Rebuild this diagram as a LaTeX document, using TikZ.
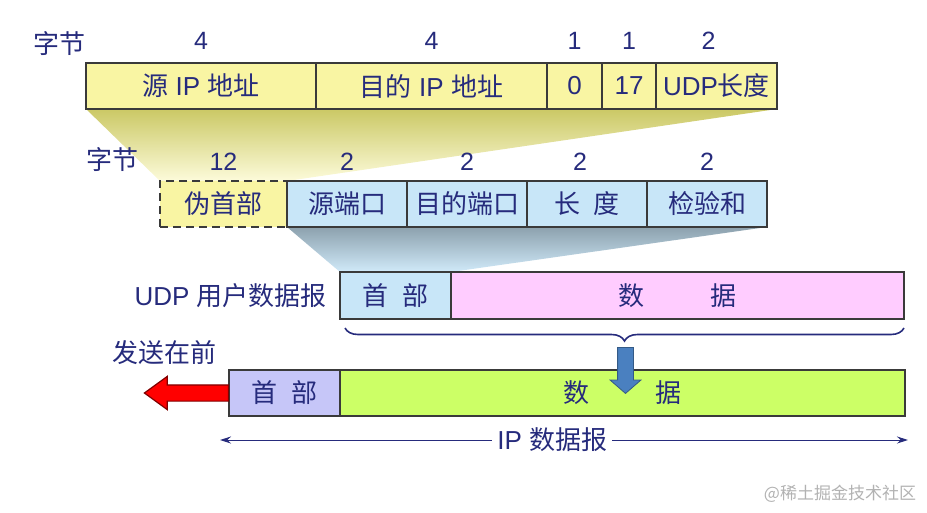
\documentclass[tikz,border=0pt]{standalone}
\usepackage{fontspec}
\setmainfont{Liberation Sans}
\newfontfamily\cjk{Noto Sans CJK SC}
\usepackage{xcolor}
\usepackage{tikz}
\usetikzlibrary{arrows.meta,positioning,calc,shapes.arrows,decorations.pathreplacing,backgrounds}
\definecolor{ink}{HTML}{262B7C}
\definecolor{edge}{HTML}{3A3A3A}
\definecolor{ipyel}{HTML}{F9F5A3}
\definecolor{udpblu}{HTML}{C8E6F8}
\definecolor{datpnk}{HTML}{FFCCFF}
\definecolor{hdrlav}{HTML}{C6C6F8}
\definecolor{datgrn}{HTML}{CCFF66}
\definecolor{pushblu}{HTML}{4A80C0}
\newcommand{\zh}[1]{{\cjk #1}}

\begin{document}
\begin{tikzpicture}[x=1pt, y=-1pt,
  font=\fontsize{26}{30}\selectfont,
  fld/.style ={draw=edge, line width=1.6pt, minimum height=46pt, inner sep=0pt,
               outer sep=0pt, text=ink},
  num/.style ={text=ink, inner sep=0pt, font=\fontsize{25}{29}\selectfont},
  lbl/.style ={text=ink, inner sep=2pt},
  fat/.style ={single arrow, draw, minimum width=0pt},
  brc/.style ={decorate, decoration={brace, mirror, amplitude=13pt}, draw=ink, line width=1.6pt},
  ar/.style  ={{Stealth[length=11pt,width=7pt]}-{Stealth[length=11pt,width=7pt]}, ink, line width=1pt}
]
\useasboundingbox (0,0) rectangle (927,512);

% ---------- IP pseudo header ----------
\node[lbl] (b1) at (60,44) {\zh{字节}};
\node[fld, fill=ipyel, minimum width=230pt, anchor=north west] (sip) at (86,63) {\zh{源} IP \zh{地址}};
\node[fld, fill=ipyel, minimum width=231pt, right=0pt of sip] (dip) {\zh{目的} IP \zh{地址}};
\node[fld, fill=ipyel, minimum width=55pt,  right=0pt of dip] (zro) {0};
\node[fld, fill=ipyel, minimum width=54pt,  right=0pt of zro] (prt) {17};
\node[fld, fill=ipyel, minimum width=121pt, right=0pt of prt] (uln) {UDP\zh{长度}};

\node[num] (n1) at ([yshift=22pt]sip.north) {4};
\node[num] (n2) at ([yshift=22pt]dip.north) {4};
\node[num] (n3) at ([yshift=22pt]zro.north) {1};
\node[num] (n4) at ([yshift=22pt]prt.north) {1};
\node[num] (n5) at ([xshift=-8pt,yshift=22pt]uln.north) {2};

% ---------- UDP header ----------
\node[lbl] (b2) at (112,160) {\zh{字节}};
\node[fld, fill=ipyel, dash pattern=on 8pt off 5pt, minimum width=127pt, anchor=north west] (psd)
  at (160,181) {\zh{伪首部}};
\node[fld, fill=udpblu, minimum width=120pt, right=0pt of psd] (spt) {\zh{源端口}};
\node[fld, fill=udpblu, minimum width=120pt, right=0pt of spt] (dpt) {\zh{目的端口}};
\node[fld, fill=udpblu, minimum width=120pt, right=0pt of dpt] (len) {\zh{长}\hspace{13pt}\zh{度}};
\node[fld, fill=udpblu, minimum width=120pt, right=0pt of len] (chk) {\zh{检验和}};

\node[num] (m1) at ([yshift=19pt]psd.north) {12};
\node[num] (m2) at ([yshift=19pt]spt.north) {2};
\node[num] (m3) at ([yshift=19pt]dpt.north) {2};
\node[num] (m4) at ([xshift=-7pt,yshift=19pt]len.north) {2};
\node[num] (m5) at ([yshift=19pt]chk.north) {2};

% ---------- UDP datagram ----------
\node[fld, fill=udpblu, minimum width=111pt, minimum height=47pt, anchor=north west] (uhd) at (340,272)
  {\zh{首}\hspace{14pt}\zh{部}};
\node[fld, fill=datpnk, minimum width=453pt, minimum height=47pt, right=0pt of uhd] (udt)
  {\zh{数}\hspace{66pt}\zh{据}};
\node[lbl, left=11pt of uhd] (ulab) {UDP \zh{用户数据报}};

\draw[brc] ([xshift=5pt,yshift=-9pt]uhd.south west) -- ([yshift=-9pt]udt.south east);

% ---------- IP datagram ----------
\node[fld, fill=hdrlav, minimum width=111pt, anchor=north west] (ihd) at (229,370)
  {\zh{首}\hspace{14pt}\zh{部}};
\node[fld, fill=datgrn, minimum width=565pt, right=0pt of ihd] (idt)
  {\zh{数}\hspace{66pt}\zh{据}};
\node[lbl] (snd) at (164,353) {\zh{发送在前}};

\node[fat, draw=red!50!black, line width=1.2pt, fill=red, shape border rotate=180, minimum height=84pt,
      inner sep=7.5pt, single arrow head extend=8.5pt, single arrow tip angle=72,
      anchor=tail] (send) at (ihd.west) {};
\node[fat, draw=pushblu!70!black, line width=0.8pt, fill=pushblu, shape border rotate=270,
      minimum height=46pt, inner sep=7.5pt, single arrow head extend=7.5pt,
      single arrow tip angle=98] (push) at (625.5,367) {};

\coordinate (ipl) at (220,440);
\coordinate (ipr) at (908,440);
\draw[ar] (ipl) -- node[pos=0.483, fill=white, text=ink, inner sep=5pt] (iplab) {IP \zh{数据报}} (ipr);

\node[text=black!30, font=\fontsize{17}{20}\selectfont\cjk] (wm) at (840,494) {@稀土掘金技术社区};

% ---------- zoom wedges ----------
\begin{scope}[on background layer]
\shade[top color=ipyel!62!olive, bottom color=ipyel!40] (sip.south west) -- (uln.south east)
  -- (psd.north east) -- (psd.north west) -- cycle;
\shade[top color=udpblu!50!black!60!udpblu, bottom color=udpblu!85] (spt.south west) -- (chk.south east)
  -- (udt.north west) -- (uhd.north west) -- cycle;
\end{scope}
\end{tikzpicture}
\end{document}
